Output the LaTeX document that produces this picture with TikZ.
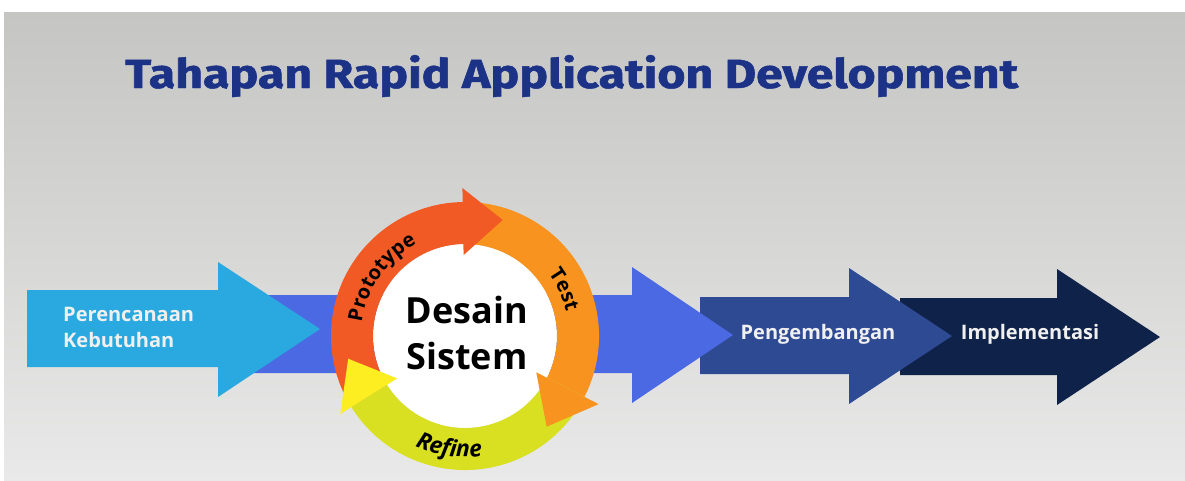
\documentclass[tikz,border=0pt]{standalone}
\usepackage{fontspec}
\usepackage{graphicx}
\setmainfont{Open Sans}
\newfontfamily\titlefont[FakeBold=1.2]{Fira Sans}
\usetikzlibrary{decorations.text}
\definecolor{bgtop}{RGB}{197,198,195}
\definecolor{bgmid}{RGB}{225,226,224}
\definecolor{bgbot}{RGB}{232,233,232}
\definecolor{titleblue}{RGB}{27,50,135}
\definecolor{arrA}{RGB}{41,169,224}
\definecolor{arrB}{RGB}{74,105,226}
\definecolor{arrC}{RGB}{46,74,147}
\definecolor{arrD}{RGB}{15,34,73}
\definecolor{ringred}{RGB}{241,90,36}
\definecolor{ringorange}{RGB}{247,147,30}
\definecolor{ringgreen}{RGB}{217,224,33}
\definecolor{ringyellow}{RGB}{252,238,33}
\definecolor{lighttext}{RGB}{240,240,240}
\tikzset{
  arrowtext/.style={text=lighttext, font=\bfseries\fontsize{20}{26}\selectfont, inner sep=0pt},
  ringtext/.style={decorate, decoration={text along path, text align=center, text color=black}},
}
\begin{document}
\begin{tikzpicture}[x=1pt,y=1pt]
\useasboundingbox (0,0) rectangle (1185,-480);
\fill[white] (0,0) rectangle (1185,-480);
\shade[top color=bgtop, middle color=bgmid, bottom color=bgbot] (4,-12) rectangle (1185,-480);

% title
\node[anchor=base west, inner sep=0pt, text=titleblue] (title) at (125,-88)
  {\resizebox{893pt}{33pt}{\titlefont\bfseries Tahapan Rapid Application Development}};

% arrows (back to front)
\fill[arrD] (900,-298) -- (1057,-298) -- (1057,-269) -- (1160,-337) -- (1057,-405) -- (1057,-375) -- (900,-375) -- cycle;
\fill[arrC] (700,-297) -- (849,-297) -- (849,-268) -- (952,-336) -- (849,-404) -- (849,-374) -- (700,-374) -- cycle;
\fill[arrB] (230,-295) -- (632,-295) -- (632,-267) -- (733,-335) -- (632,-403) -- (632,-373) -- (230,-373) -- cycle;
\fill[arrA] (27,-290) -- (218,-290) -- (218,-262) -- (320,-329) -- (218,-397) -- (218,-367) -- (27,-367) -- cycle;

\node[arrowtext, anchor=base west, align=left] (plan) at (63,-347) {Perencanaan\\Kebutuhan};
\node[arrowtext] (dev) at (818,-334) {Pengembangan};
\node[arrowtext] (impl) at (1030,-334) {Implementasi};

% cycle
\node[circle, fill=white, minimum size=184pt, inner sep=0pt] (core) at (465,-336) {};
\begin{scope}[shift={(465,-336)}]
  \fill[ringred] (212:92) arc[start angle=212, end angle=90, radius=92] -- (90:134) arc[start angle=90, end angle=212, radius=134] -- cycle;
  \fill[ringorange] (90:92) arc[start angle=90, end angle=-27, radius=92] -- (-27:134) arc[start angle=-27, end angle=90, radius=134] -- cycle;
  \fill[ringgreen] (-27:92) arc[start angle=-27, end angle=-148, radius=92] -- (-148:134) arc[start angle=-148, end angle=-27, radius=134] -- cycle;
  \fill[ringred] (91:81) -- (91:148) -- (72:122) -- cycle;
  \fill[ringorange] (-27:80) -- (-27:150) -- (-48:122) -- cycle;
  \fill[ringyellow] (212:80) -- (212:147) -- (191:119) -- cycle;
  \path[ringtext, decoration={text={|\bfseries\fontsize{20}{20}\selectfont|Prototype}}]
    (178:104) arc[start angle=178, end angle=112, radius=104];
  \path[ringtext, decoration={text={|\bfseries\fontsize{20}{20}\selectfont|Test}}]
    (45:104) arc[start angle=45, end angle=5, radius=104];
  \path[ringtext, decoration={text={|\bfseries\itshape\fontsize{23}{23}\selectfont|Refine}}]
    (228:121) arc[start angle=228, end angle=296, radius=121];
\end{scope}
\node[align=center, font=\bfseries\fontsize{36}{46}\selectfont, inner sep=0pt] (desain) at (467,-333) {Desain\\Sistem};
\end{tikzpicture}
\end{document}
